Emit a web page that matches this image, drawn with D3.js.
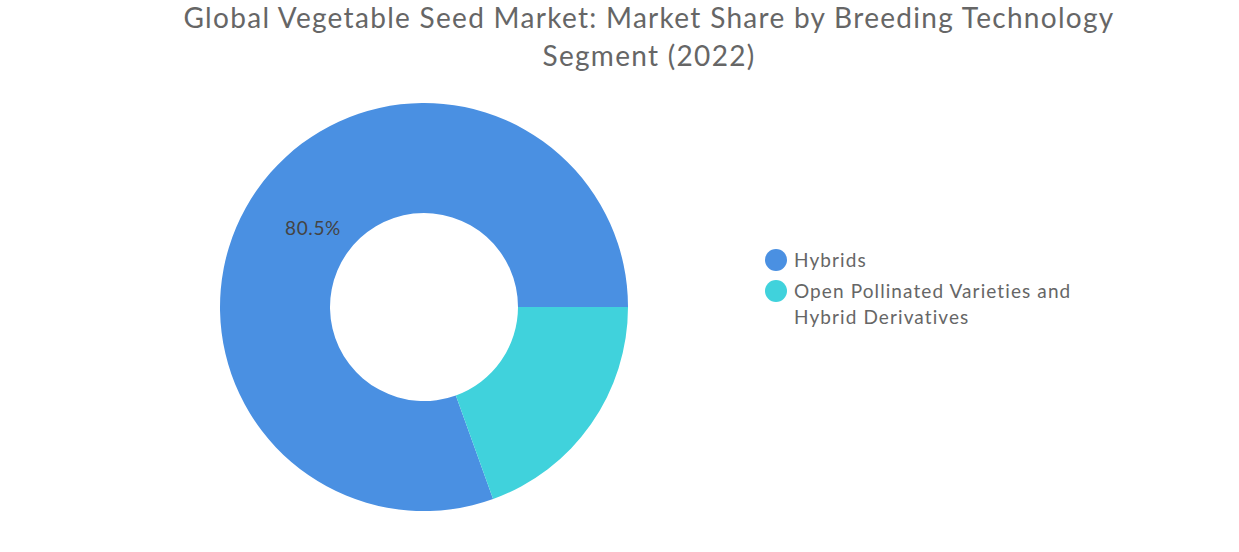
<!DOCTYPE html>
<html>
<head>
<meta charset="utf-8">
<script src="https://cdn.jsdelivr.net/npm/d3@7"></script>
<style>
  body { margin: 0; background: #fff; }
  text { font-family: Lato, "Open Sans", sans-serif; }
</style>
</head>
<body>
<div id="chartArea"></div>
<script>
const svgWidth = 1239;
const svgHeight = 552;

const titleLines = ['Global Vegetable Seed Market: Market Share by Breeding Technology', 'Segment (2022)'];
const segments = ['Hybrids', 'Open Pollinated Varieties and Hybrid Derivatives'];
const shares = [80.5, 19.5];
const legendLines = [['Hybrids'], ['Open Pollinated Varieties and', 'Hybrid Derivatives']];
const colors = ['#4a90e2', '#40d2dc'];

const canvas = d3.select('#chartArea')
  .append('svg')
  .attr('width', svgWidth)
  .attr('height', svgHeight);

// title
canvas.append('text')
  .attr('x', 649)
  .attr('y', 28)
  .attr('text-anchor', 'middle')
  .attr('font-size', 28)
  .attr('letter-spacing', 1.3)
  .attr('fill', '#666')
  .selectAll('tspan')
  .data(titleLines)
  .join('tspan')
  .attr('x', 649)
  .attr('dy', (d, i) => i === 0 ? 0 : 38)
  .text(d => d);

const cx = 424;
const cy = 307;
const outerR = 204;
const innerR = 94;

const data = segments.map((s, i) => ({ name: s, value: shares[i], color: colors[i] }));

// second slice starts at 3 o'clock, first slice fills the rest
const start = Math.PI / 2 + 2 * Math.PI * shares[1] / d3.sum(shares);
const pie = d3.pie()
  .sort(null)
  .value(d => d.value)
  .startAngle(start)
  .endAngle(start + 2 * Math.PI);

const arc = d3.arc().innerRadius(innerR).outerRadius(outerR);

const g = canvas.append('g').attr('transform', `translate(${cx},${cy})`);
const arcs = pie(data);

g.selectAll('path')
  .data(arcs)
  .join('path')
  .attr('d', arc)
  .attr('fill', d => d.data.color);

// label only on the large slice
g.selectAll('text.lbl')
  .data(arcs.filter(d => d.data.value > 50))
  .join('text')
  .attr('class', 'lbl')
  .attr('x', 313 - cx)
  .attr('y', 228 - cy)
  .attr('dy', '0.35em')
  .attr('text-anchor', 'middle')
  .attr('font-size', 19)
  .attr('letter-spacing', 0.6)
  .attr('fill', '#444')
  .text(d => d.data.value.toFixed(1) + '%');

// legend
const legend = canvas.append('g');
const legendY = [260, 291];
legend.selectAll('circle')
  .data(data)
  .join('circle')
  .attr('cx', 776)
  .attr('cy', (d, i) => legendY[i])
  .attr('r', 11)
  .attr('fill', d => d.color);

legend.selectAll('text')
  .data(legendLines)
  .join('text')
  .attr('x', 794)
  .attr('y', (d, i) => legendY[i])
  .attr('font-size', 19)
  .attr('letter-spacing', 1.1)
  .attr('fill', '#666')
  .selectAll('tspan')
  .data(d => d)
  .join('tspan')
  .attr('x', 794)
  .attr('dy', (d, i) => i === 0 ? '0.35em' : 26)
  .text(d => d);
</script>
</body>
</html>
